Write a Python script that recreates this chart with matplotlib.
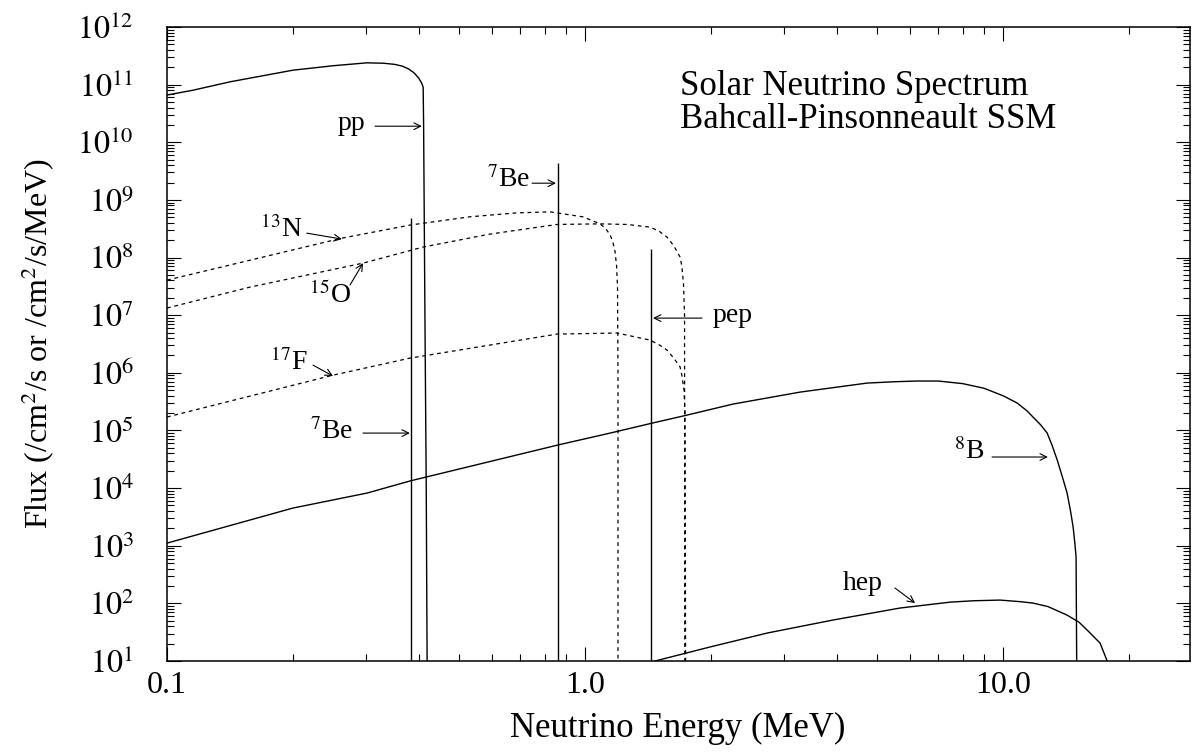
import numpy as np
import matplotlib
matplotlib.use('Agg')
from matplotlib import pyplot as plt
from matplotlib.ticker import FixedLocator, NullFormatter

plt.rcParams['font.family'] = ['Liberation Serif', 'DejaVu Serif']
plt.rcParams['mathtext.fontset'] = 'stix'

# continuum spectra, energy in MeV, flux in /cm^2/s/MeV
pp_E = [0.1, 0.1154, 0.1416, 0.2, 0.25, 0.301, 0.33, 0.35, 0.365, 0.378, 0.39, 0.40, 0.407, 0.41,
        0.411, 0.414, 0.417, 0.419]
pp_F = [6.6e10, 8.0e10, 1.12e11, 1.78e11, 2.13e11, 2.39e11, 2.35e11, 2.25e11, 2.1e11, 1.88e11, 1.6e11, 1.3e11,
        1.05e11, 9.0e10, 2e10, 1e7, 1e4, 10]

b8_E = [0.1, 0.2, 0.301, 0.3814, 0.862, 1.148, 1.447, 1.716, 2.26, 3.27, 4.73, 5.5, 6.2, 7.0, 8.0, 9.0, 10.0,
        10.8, 11.4, 11.8, 12.3, 12.75, 13.1, 13.47, 13.85, 14.23, 14.5, 14.71, 14.85, 14.95, 15.0]
b8_F = [1.11e3, 4.5e3, 8.2e3, 1.33e4, 5.6e4, 9.0e4, 1.34e5, 1.78e5, 2.87e5, 4.63e5, 6.64e5, 7.0e5, 7.2e5, 7.2e5,
        6.5e5, 5.4e5, 4.0e5, 3.0e5, 2.2e5, 1.7e5, 1.25e5, 9.0e4, 5.5e4, 3.1e4, 1.6e4, 8.2e3, 4.0e3, 2.1e3,
        1.1e3, 640, 10]

hep_E = [1.471, 1.99, 2.73, 3.92, 5.67, 7.47, 8.5, 9.83, 11.0, 11.8, 12.8, 14.2, 15.2, 16.15, 16.6, 17.06, 17.74]
hep_F = [10, 17.5, 30.6, 51.4, 83, 105, 111, 114, 107, 101, 88, 63, 47, 30.6, 25, 20.5, 10]

n13_E = [0.1, 0.158, 0.262, 0.3814, 0.531, 0.688, 0.825, 0.989, 1.086, 1.12, 1.148, 1.165, 1.18, 1.19,
         1.196, 1.199, 1.199]
n13_F = [4.06e7, 9.0e7, 2.17e8, 3.66e8, 5.1e8, 5.96e8, 6.2e8, 5.08e8, 3.84e8, 3.2e8, 2.47e8, 1.9e8, 1.25e8,
         7e7, 3e7, 1e6, 10]

o15_E = [0.1, 0.158, 0.2944, 0.41, 0.592, 0.857, 1.086, 1.26, 1.43, 1.5, 1.571, 1.63, 1.688, 1.705, 1.72,
         1.73, 1.732]
o15_F = [1.33e7, 3.07e7, 8.0e7, 1.52e8, 2.55e8, 3.75e8, 3.84e8, 3.75e8, 3.37e8, 2.9e8, 2.26e8, 1.6e8, 1.02e8,
         7e7, 3.5e7, 1e7, 10]

f17_E = [0.1, 0.2495, 0.3814, 0.592, 0.857, 1.193, 1.43, 1.5, 1.571, 1.63, 1.688, 1.705, 1.725, 1.735, 1.74]
f17_F = [1.71e5, 9.1e5, 1.8e6, 3.03e6, 4.7e6, 4.9e6, 3.7e6, 3.1e6, 2.48e6, 1.8e6, 1.26e6, 9e5, 5e5, 2e5, 10]

# line sources, flux in /cm^2/s
line_E = [0.384, 0.862, 1.442]
line_F = [4.8e8, 4.3e9, 1.4e8]

xticks = [0.1, 1.0, 10.0]
xtick_labels = ['0.1', '1.0', '10.0']
yticks = [10.0 ** k for k in range(1, 13)]
ytick_labels = ['$10^{%d}$' % k for k in range(1, 13)]

fig = plt.figure(figsize=(11.99, 7.52), dpi=100)
ax = fig.add_axes([167 / 1199, 1 - 661 / 752, 1023 / 1199, 634 / 752])
ax.set_xscale('log')
ax.set_yscale('log')
ax.set_xlim(0.1, 28)
ax.set_ylim(10, 1e12)

lw = 1.0
ax.plot(pp_E, pp_F, color='black', lw=lw)
ax.plot(b8_E, b8_F, color='black', lw=lw)
ax.plot(hep_E, hep_F, color='black', lw=lw)
dash = (0, (3, 3))
ax.plot(n13_E, n13_F, color='black', lw=0.9, ls=dash)
ax.plot(o15_E, o15_F, color='black', lw=0.9, ls=dash)
ax.plot(f17_E, f17_F, color='black', lw=0.9, ls=dash)
ax.vlines(line_E, ax.get_ylim()[0], line_F, color='black', lw=lw)

# labels with arrows
lab_fs = 20
arrow = dict(arrowstyle='->', lw=0.8, color='black', shrinkA=0, shrinkB=0, mutation_scale=12)


def tag(text, tx, ty, tail, tip):
    ax.text(tx, ty, text, fontsize=lab_fs, ha='center', va='center')
    ax.annotate('', xy=tip, xytext=tail, arrowprops=arrow)


tag('pp', 0.277, 2.15e10, (0.3145, 1.9e10), (0.407, 1.9e10))
tag('$^{7}$Be', 0.655, 2.3e9, (0.747, 1.95e9), (0.852, 1.95e9))
tag('$^{13}$N', 0.188, 3.1e8, (0.216, 2.65e8), (0.262, 2.09e8))
tag('$^{15}$O', 0.245, 2.2e7, (0.274, 3.33e7), (0.2944, 8.0e7))
tag('$^{17}$F', 0.195, 1.55e6, (0.2235, 1.36e6), (0.2495, 8.8e5))
tag('$^{7}$Be', 0.247, 9.5e4, (0.2944, 9.0e4), (0.381, 9.0e4))
tag('pep', 2.26, 1.0e7, (1.905, 8.9e6), (1.454, 8.9e6))
tag('$^{8}$B', 8.3, 4.3e4, (9.41, 3.46e4), (12.8, 3.46e4))
tag('hep', 4.62, 225, (5.51, 185), (6.16, 101))

ax.text(0.5015, 0.8927, 'Solar Neutrino Spectrum', transform=ax.transAxes, fontsize=25, va='baseline')
ax.text(0.5015, 0.8407, 'Bahcall-Pinsonneault SSM', transform=ax.transAxes, fontsize=25, va='baseline')

ax.xaxis.set_major_locator(FixedLocator(xticks))
ax.set_xticklabels(xtick_labels)
ax.yaxis.set_major_locator(FixedLocator(yticks))
ax.set_yticklabels(ytick_labels)
minor_x = [m * 10.0 ** k for k in range(-1, 2) for m in range(2, 10)]
minor_y = [m * 10.0 ** k for k in range(1, 12) for m in range(2, 10)]
ax.xaxis.set_minor_locator(FixedLocator(minor_x))
ax.yaxis.set_minor_locator(FixedLocator(minor_y))
ax.xaxis.set_minor_formatter(NullFormatter())
ax.yaxis.set_minor_formatter(NullFormatter())
ax.tick_params(which='both', direction='in', top=True, right=True, width=0.8)
ax.tick_params(which='major', length=10)
ax.tick_params(which='minor', length=5)
ax.tick_params(axis='x', which='major', labelsize=23, pad=7)
ax.tick_params(axis='y', which='major', labelsize=23, pad=24)
for s in ax.spines.values():
    s.set_linewidth(1.1)

fig.text(678 / 1199, 1 - 728 / 752, 'Neutrino Energy (MeV)', fontsize=25, ha='center', va='center')
fig.text(38 / 1199, 1 - 344 / 752, 'Flux (/cm$^2$/s or /cm$^2$/s/MeV)', fontsize=23,
         ha='center', va='center', rotation=90)

fig.savefig('out.png', dpi=100)
